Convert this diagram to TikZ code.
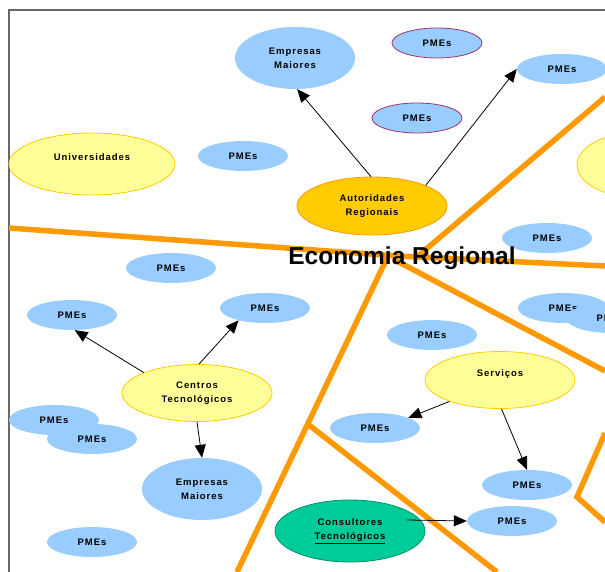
\documentclass[tikz,border=0pt]{standalone}
\usepackage{fontspec}
\setmainfont{Liberation Sans}
\newfontfamily\lblfont[LetterSpace=10]{Liberation Sans}
\usetikzlibrary{arrows.meta,shapes.geometric}
\definecolor{Sky}{HTML}{99CCFF}
\definecolor{Lemon}{HTML}{FFFF99}
\definecolor{Gold}{HTML}{FFCC00}
\definecolor{Amber}{HTML}{FF9900}
\definecolor{Mint}{HTML}{00CC99}
\definecolor{Plum}{HTML}{993366}
\definecolor{Frame}{HTML}{666666}

\begin{document}
\begin{tikzpicture}[x=1pt,y=-1pt,
  blob/.style={ellipse,inner sep=0pt,align=center,font=\lblfont\bfseries\fontsize{9.5}{14}\selectfont},
  pme/.style={blob,fill=Sky,minimum width=90pt,minimum height=30pt},
  pmering/.style={pme,draw=Plum,line width=.8pt},
  big/.style={blob,fill=Sky,minimum width=120pt,minimum height=62pt},
  soft/.style={blob,fill=Lemon,draw=Gold,line width=.8pt,minimum width=150pt,minimum height=57pt},
  zone/.style={draw=Amber,line width=5.5pt},
  arr/.style={-{Triangle[length=13pt,width=11pt]},line width=.8pt}]
\useasboundingbox (0,0) rectangle (605,572);
\clip (0,0) rectangle (605,572);
\draw[Frame,line width=2pt] (9,572) -- (9,10) -- (605,10);
\draw[zone] (9,228) -- (398,256) -- (605,266);
\draw[zone] (388,256) -- (237,572);
\draw[zone] (418,256) -- (605,97);
\draw[zone] (395,260) -- (605,371);
\draw[zone] (309,425) -- (497,572);
\draw[zone] (605,433) -- (577,497) -- (605,522);
\node[big] (empA) at (295,58) {Empresas\\Maiores};
\node[pmering] (pmeP1) at (437,43) {PMEs};
\node[pmering] (pmeP2) at (417,118) {PMEs};
\node[pme] (pmeTR) at (562,69) {PMEs};
\node[soft,minimum width=166pt,minimum height=62pt] (univ) at (92,164) {Universidades\\\mbox{}};
\node[pme] (pmeU) at (243,156) {PMEs};
\node[soft,fill=Gold,draw=Amber,minimum height=58pt] (autrg) at (372,206) {Autoridades\\Regionais};
\node[soft,minimum width=126pt,minimum height=66pt] (right) at (640,165) {};
\node[pme] (pmeR1) at (547,238) {PMEs};
\node[font=\bfseries\fontsize{24.5}{28}\selectfont] (title) at (402,258) {Economia Regional};
\node[pme] (pmeM) at (171,268) {PMEs};
\node[pme] (pmeL) at (72,315) {PMEs};
\node[pme] (pmeC) at (265,308) {PMEs};
\node[pme] (pmeR2) at (563,308) {PMEs};
\node[pme] (pmeR3) at (611,318) {PMEs};
\node[pme] (pmeS0) at (432,335) {PMEs};
\node[soft] (centros) at (197,393) {Centros\\Tecnológicos};
\node[soft] (serv) at (500,380) {Serviços\\\mbox{}};
\node[pme] (pmeL1) at (54,420) {PMEs};
\node[pme] (pmeL2) at (92,439) {PMEs};
\node[pme] (pmeS1) at (375,428) {PMEs};
\node[big] (empB) at (202,489) {Empresas\\Maiores};
\node[pme] (pmeS2) at (527,485) {PMEs};
\node[pme] (pmeCons) at (512,521) {PMEs};
\node[soft,fill=Mint,draw=Mint!70!black,minimum height=62pt] (consult) at (350,531) {Consultores\\\underline{Tecnológicos}};
\node[pme] (pmeB) at (92,542) {PMEs};
\draw[arr] (autrg.92) -- (empA.-86);
\draw[arr] (autrg.21) -- (pmeTR.west);
\draw[arr] (centros.159) -- (pmeL.-80);
\draw[arr] (centros.86) -- (pmeC.205);
\draw[arr] (centros.south) -- (empB.north);
\draw[arr] (serv.203) -- (pmeS1.17);
\draw[arr] (serv.-87) -- (pmeS2.north);
\draw[arr] ([xshift=57pt,yshift=11pt]consult.center) -- (pmeCons.west);
\end{tikzpicture}
\end{document}
